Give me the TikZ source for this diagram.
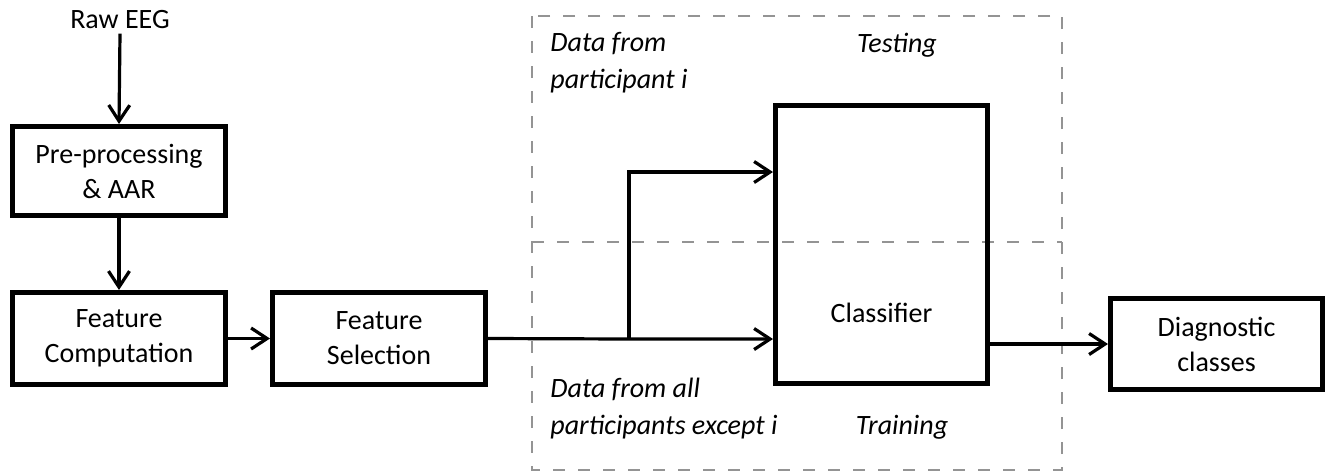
\documentclass[tikz,border=0pt]{standalone}
\usepackage{fontspec}
\setmainfont{Carlito}
\usetikzlibrary{arrows.meta}
\begin{document}
\begin{tikzpicture}[x=0.5pt,y=-0.5pt,
  box/.style={draw, line width=2.5pt, minimum width=106.5pt, minimum height=45pt,
    inner sep=0pt, align=center, font=\fontsize{14}{17.5}\selectfont},
  txt/.style={inner sep=2pt, align=center, font=\fontsize{14}{17.5}\selectfont},
  lbl/.style={inner sep=0pt, align=left, anchor=west, font=\fontsize{14}{18.5}\selectfont\itshape},
  arr/.style={line width=1.6pt, -{Straight Barb[length=8pt,width=10.5pt,line width=1.6pt]}},
  dsh/.style={draw=black!42, line width=1.3pt, dash pattern=on 6pt off 6.5pt}
]
\useasboundingbox (0,0) rectangle (1327,472);

% dashed regions
\draw[dsh] (532,16) rectangle (1062,470);
\draw[dsh] (532,242) -- (1062,242);

% nodes
\node[txt] (raw) at (120,20) {Raw EEG};
\node[box, minimum height=44.5pt] (pre) at (119,171) {Pre-processing\\\& AAR};
\node[box, minimum height=46pt] (fc) at (119,338.5) {Feature\\Computation};
\node[box, minimum height=46pt] (fs) at (379,338.5) {Feature\\Selection};
\node[box, minimum width=106pt, minimum height=139pt] (clf) at (881.5,244.5) {};
\node[txt] (clft) at (881.5,313) {Classifier};
\node[box, minimum width=106pt, minimum height=45.5pt] (dc) at (1216.5,344) {Diagnostic\\classes};

\node[lbl] (dfp) at (550,63) {Data from\\participant i};
\node[txt, font=\fontsize{14}{17.5}\selectfont\itshape] (tst) at (897,45) {Testing};
\node[lbl] (dfa) at (550,409) {Data from all\\participants except i};
\node[txt, font=\fontsize{14}{17.5}\selectfont\itshape] (trn) at (902,427) {Training};

% connectors
\coordinate (br) at (629,339);
\coordinate (tp) at (629,172);
\draw[arr] (raw.south) -- (pre.north);
\draw[arr] (pre.south) -- (fc.north);
\draw[arr] (fc.east) -- (fs.west);
\draw[arr] (fs.east) -- (br) -- (br -| clf.west);
\draw[arr] (br) -- (tp) -- (tp -| clf.west);
\draw[arr] (clf.east |- dc.west) -- (dc.west);
\end{tikzpicture}
\end{document}
